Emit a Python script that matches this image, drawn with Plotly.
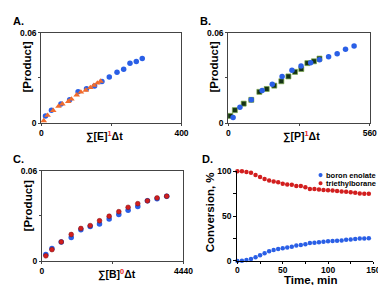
import plotly.graph_objects as go

W, H = 386, 285
FONT = "Liberation Sans, Arial, sans-serif"

# ---------------- data ----------------
a_blue_x = [12, 29, 56, 81, 105, 129, 152, 173, 194, 216, 235, 253, 271, 288]
a_blue_y = [0.0049, 0.0087, 0.0128, 0.0155, 0.0209, 0.0228, 0.0247, 0.0277, 0.0306, 0.0338, 0.0357, 0.0398, 0.0409, 0.0428]
a_tri_x = [7, 18, 34, 49, 60, 77, 86, 101, 113, 127, 140, 150, 160, 169]
a_tri_y = [0.0017, 0.0053, 0.0085, 0.0112, 0.0128, 0.0144, 0.0160, 0.0187, 0.0206, 0.0219, 0.0236, 0.0251, 0.0266, 0.0278]

b_sq_x = [8, 26, 61, 91, 123, 152, 182, 210, 238, 264, 289, 313, 339, 361]
b_sq_y = [0.0049, 0.0087, 0.0130, 0.0155, 0.0208, 0.0227, 0.0249, 0.0278, 0.0310, 0.0340, 0.0359, 0.0398, 0.0410, 0.0428]
b_circ_x = [19, 46, 91, 134, 174, 213, 252, 288, 326, 361, 397, 431, 464, 498]
b_circ_y = [0.0038, 0.0106, 0.0155, 0.0217, 0.0259, 0.0310, 0.0351, 0.0379, 0.0400, 0.0421, 0.0440, 0.0460, 0.0489, 0.0511]

c_x = [121, 313, 605, 918, 1221, 1514, 1806, 2109, 2412, 2704, 3007, 3310, 3612, 3915]
c_blue = [0.0045, 0.0085, 0.0128, 0.0157, 0.0209, 0.0230, 0.0247, 0.0279, 0.0309, 0.0338, 0.0362, 0.0400, 0.0413, 0.0430]
c_red = [0.0036, 0.0077, 0.0128, 0.0177, 0.0217, 0.0236, 0.0268, 0.0298, 0.0328, 0.0357, 0.0381, 0.0400, 0.0419, 0.0430]

d_time = [0, 5, 10, 15, 20, 25, 30, 35, 40, 45, 50, 55, 60, 65, 70,
          75, 80, 85, 90, 95, 100, 105, 110, 115, 120, 125, 130, 135, 140, 145]
d_enolate = [0, 0.4, 1.1, 2.2, 4.3, 6.5, 8.6, 10.8, 12.2, 13.3, 14.3, 15.1, 15.8, 17.2, 17.9,
             18.6, 20.1, 20.4, 20.8, 21.5, 21.9, 22.2, 22.6, 22.9, 23.7, 24.0, 24.4, 25.1, 25.1, 25.4]
d_borane = [100, 100, 99.3, 98.2, 95.7, 93.5, 91.4, 89.6, 88.5, 87.8, 86.0, 85.3, 84.9, 83.5, 83.5,
            82.1, 80.3, 80.3, 79.6, 79.2, 78.9, 78.5, 78.1, 77.4, 77.1, 76.7, 76.0, 75.3, 74.9, 74.9]

# ---------------- helpers ----------------
def dx(p0, p1):
    return [p0 / W, p1 / W]

def dy(top, bottom):
    return [1 - bottom / H, 1 - top / H]

BLUE = "#2a5fe6"
ORANGE = "#f26c2c"
DKGREEN = "#143214"
RED = "#d21e1e"

fig = go.Figure()

def mk(color, symbol="circle", size=5, line=None):
    d = dict(color=color, symbol=symbol, size=size)
    d["line"] = line if line else dict(width=0)
    return d

fig.add_trace(go.Scatter(x=a_blue_x, y=a_blue_y, mode="markers", marker=mk(BLUE, size=5.5),
                         xaxis="x", yaxis="y", cliponaxis=False))
fig.add_trace(go.Scatter(x=a_tri_x, y=a_tri_y, mode="markers", marker=mk(ORANGE, "triangle-up", 5.8),
                         xaxis="x", yaxis="y", cliponaxis=False))

fig.add_trace(go.Scatter(x=b_sq_x, y=b_sq_y, mode="markers",
                         marker=mk(DKGREEN, "square", 5, dict(color="#7aa84a", width=0.7)),
                         xaxis="x2", yaxis="y2", cliponaxis=False))
fig.add_trace(go.Scatter(x=b_circ_x, y=b_circ_y, mode="markers", marker=mk(BLUE, size=5.5),
                         xaxis="x2", yaxis="y2", cliponaxis=False))

fig.add_trace(go.Scatter(x=c_x, y=c_blue, mode="markers", marker=mk(BLUE, size=5.5),
                         xaxis="x3", yaxis="y3", cliponaxis=False))
fig.add_trace(go.Scatter(x=c_x, y=c_red, mode="markers",
                         marker=mk(RED, size=4.8, line=dict(color="#7a1010", width=0.5)),
                         xaxis="x3", yaxis="y3", cliponaxis=False))

fig.add_trace(go.Scatter(x=d_time, y=d_enolate, mode="markers", marker=mk(BLUE, size=4.5),
                         xaxis="x4", yaxis="y4", cliponaxis=False))
fig.add_trace(go.Scatter(x=d_time, y=d_borane, mode="markers", marker=mk(RED, size=4.5),
                         xaxis="x4", yaxis="y4", cliponaxis=False))

tf = dict(family=FONT, size=8.5, color="black", weight="bold")

def box_axes(xmax, xdom, ydom, xt):
    xa = dict(domain=xdom, range=[0, xmax], tickvals=[0, xmax], ticktext=["0", xt],
              showgrid=False, zeroline=False, showline=True, linecolor="#444", linewidth=1,
              mirror=True, ticks="outside", ticklen=2, tickcolor="#444", tickfont=tf,
              minor=dict(tickvals=[xmax / 2], ticks="outside", ticklen=2, tickcolor="#444", showgrid=False))
    ya = dict(domain=ydom, range=[0, 0.06], tickvals=[0, 0.06], ticktext=["0", "0.06"],
              showgrid=False, zeroline=False, showline=True, linecolor="#444", linewidth=1,
              mirror=True, ticks="outside", ticklen=2, tickcolor="#444", tickfont=tf,
              minor=dict(tickvals=[0.03], ticks="outside", ticklen=2, tickcolor="#444", showgrid=False))
    return xa, ya

xa1, ya1 = box_axes(400, dx(32.3, 177), dy(20.3, 114.3), "400")
xa2, ya2 = box_axes(560, dx(225.3, 371.3), dy(20.3, 114.3), "560")
xa3, ya3 = box_axes(4440, dx(33, 179), dy(163.3, 257.3), "4440")
ya1.update(anchor="x"); xa1.update(anchor="y")
xa2.update(anchor="y2"); ya2.update(anchor="x2")
xa3.update(anchor="y3"); ya3.update(anchor="x3")

tf4 = dict(family=FONT, size=8.5, color="black", weight="bold")
xa4 = dict(domain=dx(234.7, 375), range=[0, 150], anchor="y4",
           tickvals=[0, 50, 100, 150], ticktext=["0", "50", "100", "150"],
           showgrid=False, zeroline=False, showline=True, linecolor="black", linewidth=1.3,
           ticks="outside", ticklen=2, tickcolor="black", tickfont=tf4, ticklabelstandoff=-1,
           minor=dict(tickvals=[25, 75, 125], ticks="outside", ticklen=2, tickcolor="black", showgrid=False))
ya4 = dict(domain=dy(164, 257), range=[0, 100], anchor="x4",
           tickvals=[0, 50, 100], ticktext=["0", "50", "100"],
           showgrid=False, zeroline=False, showline=True, linecolor="black", linewidth=1.3,
           ticks="outside", ticklen=3, tickcolor="black", tickfont=tf4,
           minor=dict(tickvals=[25, 75], ticks="outside", ticklen=3, tickcolor="black", showgrid=False))

anns = []

def ann(text, x, y, size, angle=0, xanchor="center", yanchor="middle"):
    anns.append(dict(text=text, x=x / W, y=1 - y / H, xref="paper", yref="paper",
                     showarrow=False, textangle=angle, xanchor=xanchor, yanchor=yanchor,
                     font=dict(family=FONT, size=size, color="black")))

SUP = "<sup style='color:#e8251f'>%s</sup>"
# panel labels
ann("<b>A.</b>", 1, 8, 11, xanchor="left")
ann("<b>B.</b>", 194, 8, 11, xanchor="left")
ann("<b>C.</b>", 1, 151, 11, xanchor="left")
ann("<b>D.</b>", 196, 151, 11, xanchor="left")
# x titles
ann("<b>∑[E]" + SUP % "1" + "Δt</b>", 98, 127, 10.5)
ann("<b>∑[P]" + SUP % "1" + "Δt</b>", 301, 127, 10.5)
ann("<b>∑[B]" + SUP % "0" + "Δt</b>", 110, 270, 10.5)
ann("<b>Time, min</b>", 310, 277, 11.5)
# y titles
ann("<b>[Product]</b>", 18, 56, 11.5, angle=-90)
ann("<b>[Product]</b>", 211, 56, 11.5, angle=-90)
ann("<b>[Product]</b>", 19, 200, 11.5, angle=-90)
ann("<b>Conversion, %</b>", 206, 207, 11.5, angle=-90)
# legend for D
ann("<b>boron enolate</b>", 324, 168, 7.5, xanchor="left")
ann("<b>triethylborane</b>", 324, 176.5, 7.5, xanchor="left")

shapes = []
for cy, col in [(168, BLUE), (176.5, RED)]:
    r = 2.1
    shapes.append(dict(type="circle", xref="paper", yref="paper",
                       x0=(320.5 - r) / W, x1=(320.5 + r) / W,
                       y0=1 - (cy + r) / H, y1=1 - (cy - r) / H,
                       fillcolor=col, line=dict(width=0)))

fig.update_layout(
    width=W, height=H, margin=dict(l=0, r=0, t=0, b=0),
    paper_bgcolor="white", plot_bgcolor="white", showlegend=False,
    xaxis=xa1, yaxis=ya1, xaxis2=xa2, yaxis2=ya2,
    xaxis3=xa3, yaxis3=ya3, xaxis4=xa4, yaxis4=ya4,
    annotations=anns, shapes=shapes,
)

fig.write_html("out.html")
